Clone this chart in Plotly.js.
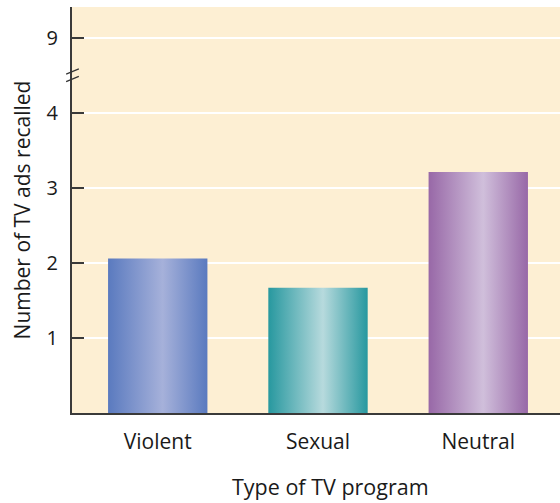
<!DOCTYPE html>
<html>
<head>
<meta charset="utf-8">
<script src="https://cdn.plot.ly/plotly-3.0.1.min.js"></script>
<style>
  html, body { margin: 0; padding: 0; background: #ffffff; }
  #chart { width: 560px; height: 503px; }
</style>
</head>
<body>
<div id="chart"></div>
<script>
// Programme types and mean number of ads recalled
const categories = ['Violent', 'Sexual', 'Neutral'];
const adsRecalled = [2.06, 1.67, 3.21];

// Broken y-axis: positions 1–4 are real values, position 5 is labelled 9
const yTickPositions = [1, 2, 3, 4, 5];
const yTickLabels = ['1', '2', '3', '4', '9'];

// Edge and highlight shades for the cylinder-like bars
const edgeColors = ['#5a7abf', '#27989f', '#9868a7'];
const lightColors = ['#a6b1da', '#b7dadd', '#d0bfdb'];

const barWidth = 0.62;
const fontFamily = '"Open Sans", "Noto Sans", sans-serif';
const textColor = '#1a1a1a';

const traces = categories.map((cat, i) => {
  const x0 = i - barWidth / 2;
  const x1 = i + barWidth / 2;
  const v = adsRecalled[i];
  return {
    type: 'scatter',
    mode: 'lines',
    x: [x0, x1, x1, x0, x0],
    y: [0, 0, v, v, 0],
    fill: 'toself',
    line: { width: 0 },
    fillgradient: {
      type: 'horizontal',
      colorscale: [
        [0, edgeColors[i]],
        [0.55, lightColors[i]],
        [1, edgeColors[i]]
      ]
    },
    hoverinfo: 'text',
    text: cat + ': ' + v,
    showlegend: false
  };
});

// Axis-break marker (two short slanted strokes across the y-axis)
const breakY = 4.5;
const breakShapes = [-0.05, 0.05].map(dy => ({
  type: 'line',
  xref: 'paper', yref: 'y',
  x0: -0.012, x1: 0.014,
  y0: breakY + dy - 0.035, y1: breakY + dy + 0.035,
  line: { color: '#333333', width: 1.2 }
}));

const layout = {
  width: 560,
  height: 503,
  margin: { l: 72, r: 0, t: 7, b: 90 },
  paper_bgcolor: '#ffffff',
  plot_bgcolor: '#fdefd3',
  font: { family: fontFamily, color: textColor },
  xaxis: {
    range: [-0.535, 2.51],
    tickvals: [0, 1, 2],
    ticktext: categories,
    showgrid: false,
    zeroline: false,
    showline: true,
    linecolor: '#3a3a3a',
    linewidth: 2,
    ticks: '',
    tickfont: { size: 21, family: fontFamily, color: textColor },
    ticklabelstandoff: 9,
    fixedrange: true
  },
  yaxis: {
    range: [0, 5.41],
    tickvals: yTickPositions,
    ticktext: yTickLabels,
    showgrid: true,
    gridcolor: '#ffffff',
    gridwidth: 2.5,
    zeroline: false,
    showline: true,
    linecolor: '#3a3a3a',
    linewidth: 2,
    ticks: 'inside',
    ticklen: 12,
    tickwidth: 1.5,
    tickcolor: '#3a3a3a',
    tickfont: { size: 20, family: fontFamily, color: textColor },
    ticklabelstandoff: 8,
    title: { text: 'Number of TV ads recalled', font: { size: 21, family: fontFamily, color: textColor }, standoff: 10 },
    fixedrange: true
  },
  annotations: [{
    text: 'Type of TV program',
    xref: 'paper', yref: 'paper',
    x: 0.53, y: 0,
    xanchor: 'center', yanchor: 'top',
    yshift: -58,
    borderpad: 0,
    showarrow: false,
    font: { size: 21.5, family: fontFamily, color: textColor }
  }],
  shapes: breakShapes,
  showlegend: false
};

Plotly.newPlot('chart', traces, layout, { displayModeBar: false, staticPlot: true });
</script>
</body>
</html>
